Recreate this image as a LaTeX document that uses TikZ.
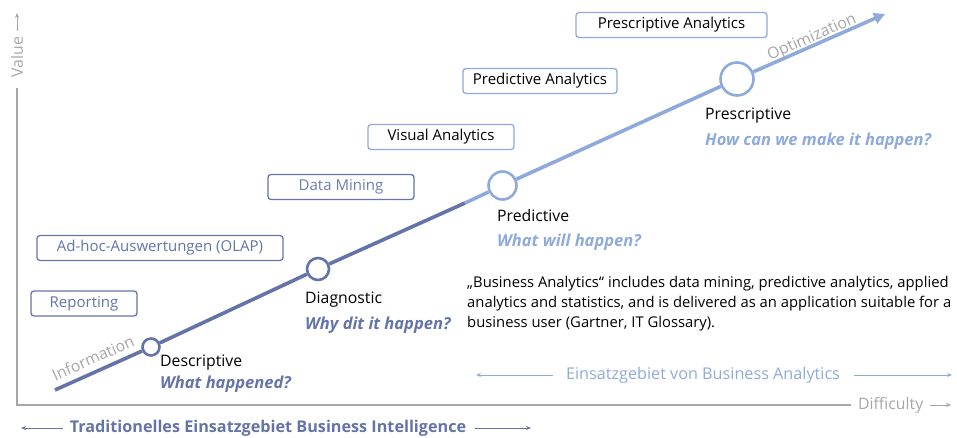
\documentclass[tikz,border=0pt]{standalone}
\usepackage{fontspec}
\setmainfont{Open Sans}
\usetikzlibrary{arrows.meta}
\definecolor{dark}{HTML}{6474A8}
\definecolor{light}{HTML}{8EAADB}
\definecolor{axisgray}{HTML}{A6A6A6}
\begin{document}
\begin{tikzpicture}[x=1pt,y=-1pt,
  box/.style={draw=#1, rounded corners=3pt, line width=1.3pt, inner sep=0pt, font=\fontsize{15}{18}\selectfont},
  stage/.style={circle, draw=#1, fill=white, line width=2.6pt, inner sep=0pt},
  lbl/.style={anchor=west, inner sep=0pt, font=\fontsize{15.8}{18}\selectfont},
  q/.style={anchor=west, inner sep=0pt, font=\fontsize{16.5}{18}\selectfont\bfseries\itshape, text=#1},
  axis/.style={draw=axisgray, line width=1.4pt},
  thin/.style={line width=1pt, -{Stealth[length=5pt,width=4pt]}},
  graytxt/.style={text=axisgray, inner sep=0pt, font=\fontsize{15.8}{18}\selectfont}
]
\useasboundingbox (0,0) rectangle (957,438);

% axes
\coordinate (origin) at (17,405);
\coordinate (ytop) at (17,88);
\coordinate (xend) at (851,405);
\coordinate (ybase) at (17,31);
\coordinate (ytip) at (17,13);
\coordinate (xtip) at (951,405);
\draw[axis] (ytop) -- (origin) -- (xend);
\node[graytxt, rotate=90] (value) at (17,57) {Value};
\draw[axis, thin, draw=axisgray] (ybase) -- (ytip);
\node[graytxt, anchor=west] (diff) at (858,405) {Difficulty};
\draw[axis, thin, draw=axisgray] ([xshift=7]diff.east) -- (xtip);

% boxes
\node[box=dark, text=dark, minimum width=106, minimum height=25] (rep) at (84,303.5) {Reporting};
\node[box=dark, text=dark, minimum width=246, minimum height=25] (olap) at (160,248) {Ad-hoc-Auswertungen (OLAP)};
\node[box=dark, text=dark!85!light, minimum width=146, minimum height=25] (dm) at (341,187) {Data Mining};
\node[box=light, minimum width=146, minimum height=25] (va) at (441,137) {Visual Analytics};
\node[box=light, minimum width=154, minimum height=25] (pa) at (540,81) {Predictive Analytics};
\node[box=light, minimum width=191, minimum height=25] (psa) at (671.5,25) {Prescriptive Analytics};

% main line
\coordinate (start) at (55,390);
\coordinate (switch) at (465,203);
\coordinate (tip) at (885,14);
\node[stage=dark, minimum size=17] (desc) at (151,347) {};
\node[stage=dark, minimum size=22] (diag) at (318,269) {};
\node[stage=light, minimum size=28] (pred) at (502.5,185.5) {};
\node[stage=light, minimum size=33] (pres) at (737,79) {};
\draw[dark, line width=3.6pt] (start) -- (desc) (desc) -- (diag) (diag) -- (switch);
\draw[light, line width=3.6pt] (switch) -- (pred) (pred) -- (pres);
\draw[light, line width=3.6pt, -{Triangle[length=11pt,width=11pt]}] (pres) -- (tip);

\node[graytxt, rotate=24] (info) at (93,358) {Information};
\node[graytxt, rotate=24] (opt) at (812,38) {Optimization};

% stage labels
\node[lbl] (descL) at (160,363) {Descriptive};
\node[q=dark] (descQ) at (160,384) {What happened?};
\node[lbl] (diagL) at (305,300) {Diagnostic};
\node[q=dark] (diagQ) at (305,325) {Why dit it happen?};
\node[lbl] (predL) at (497,216) {Predictive};
\node[q=light] (predQ) at (497,242) {What will happen?};
\node[lbl] (presL) at (705,116) {Prescriptive};
\node[q=light] (presQ) at (705,141) {How can we make it happen?};

% quote
\node[anchor=north west, inner sep=0pt, align=left, font=\fontsize{14.8}{20}\selectfont] (quote) at (467,276)
 {„Business Analytics“ includes data mining, predictive analytics, applied\\
  analytics and statistics, and is delivered as an application suitable for a\\
  business user (Gartner, IT Glossary).};

% bottom ranges
\node[text=light, inner sep=0pt, font=\fontsize{16.2}{18}\selectfont] (ba) at (703,375) {Einsatzgebiet von Business Analytics};
\coordinate (baL) at (476,375);
\coordinate (baR) at (952,375);
\draw[light, thin] ([xshift=-13]ba.west) -- (baL);
\draw[light, thin] ([xshift=14]ba.east) -- (baR);

\node[text=dark, inner sep=0pt, font=\fontsize{16.2}{18}\selectfont\bfseries] (bi) at (268,428) {Traditionelles Einsatzgebiet Business Intelligence};
\coordinate (biL) at (21,428);
\coordinate (biR) at (531,428);
\draw[dark, thin] ([xshift=-7]bi.west) -- (biL);
\draw[dark, thin] ([xshift=9]bi.east) -- (biR);
\end{tikzpicture}
\end{document}
